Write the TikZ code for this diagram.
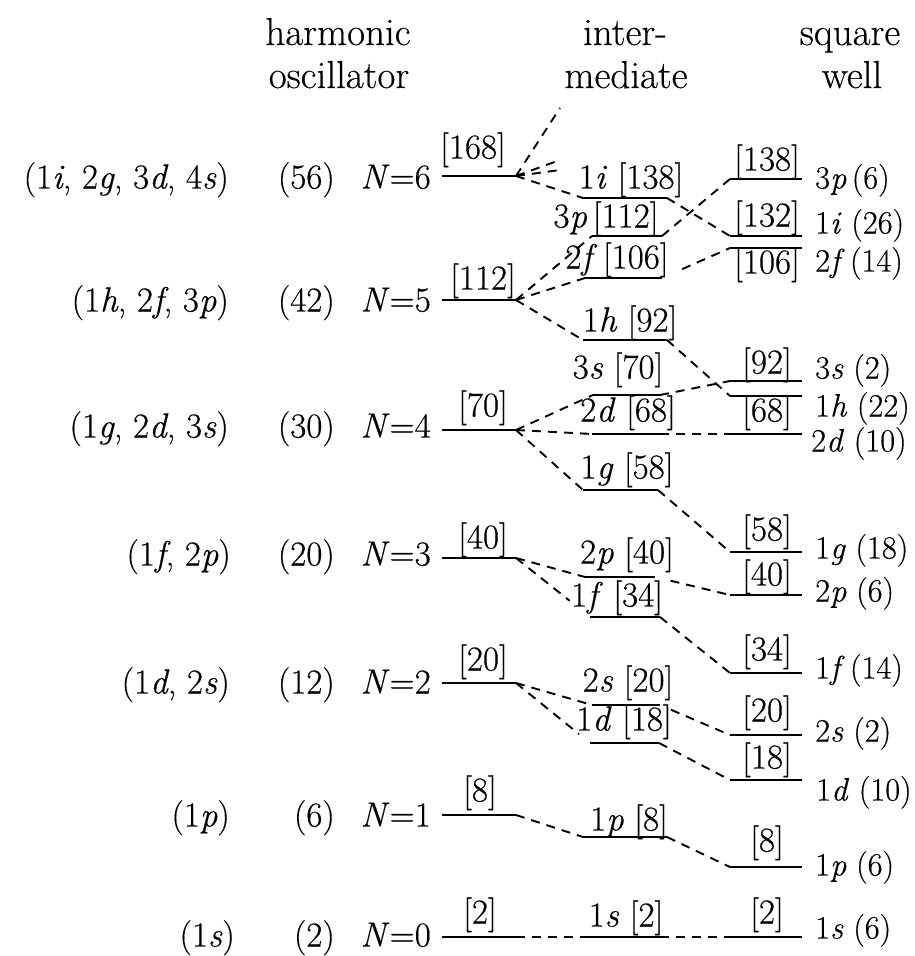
\documentclass[tikz,border=0pt]{standalone}
\usepackage{fontspec}
\setmainfont{Latin Modern Roman}[FakeBold=0.35]
\begin{document}
\begin{tikzpicture}[x=1pt,y=-1pt,
  level/.style={line width=2.4pt},
  link/.style={line width=1.9pt, dash pattern=on 9pt off 7pt},
  lab/.style={inner sep=0pt, text height=26pt, text depth=9pt,
              font=\fontsize{35}{42}\selectfont},
  rlab/.style={lab, anchor=west, font=\fontsize{32.5}{40}\selectfont},
  head/.style={inner sep=0pt, anchor=base, font=\fontsize{39}{46}\selectfont}]
\useasboundingbox (0,0) rectangle (915,956);

% column headings
\node[head] (hd1a) at (338,45) {harmonic};
\node[head] (hd1b) at (339,88) {oscillator};
\node[head] (hd2a) at (625,45) {inter-};
\node[head] (hd2b) at (626,88) {mediate};
\node[head] (hd3a) at (850,45) {square};
\node[head] (hd3b) at (852,88) {well};

% harmonic oscillator shells
\foreach \n/\y in {6/176,5/300,4/430,3/558,2/683,1/815,0/937}{
  \coordinate (hL\n) at (442,\y);
  \coordinate (hR\n) at (516,\y);
  \draw[level] (hL\n) -- (hR\n);
}

% intermediate levels
\foreach \s/\a/\b/\y in {1i/583/667/198, 3p/592/662/236, 2f/585/662/278,
    1h/583/667/340, 3s/593/660/395, 2d/592/660/434, 1g/583/658/490,
    2p/585/655/577, 1f/590/660/617, 2s/592/660/705, 1d/590/659/743,
    1p/583/667/837, 1s/583/660/937}{
  \coordinate (mL\s) at (\a,\y);
  \coordinate (mR\s) at (\b,\y);
  \draw[level] (mL\s) -- (mR\s);
}

% square well levels
\foreach \s/\y in {3p/179, 1i/236, 2f/248, 3s/381, 1h/396, 2d/434,
    1g/552, 2p/595, 1f/673, 2s/735, 1d/780, 1p/867, 1s/937}{
  \coordinate (sL\s) at (730,\y);
  \coordinate (sR\s) at (802,\y);
  \draw[level] (sL\s) -- (sR\s);
}

% shell contents, degeneracies and N
\node[lab,anchor=east] (c6) at (229,180) {(1\textit{i}, 2\textit{g}, 3\textit{d}, 4\textit{s})};
\node[lab,anchor=east] (c5) at (229,303) {(1\textit{h}, 2\textit{f}, 3\textit{p})};
\node[lab,anchor=east] (c4) at (229,429) {(1\textit{g}, 2\textit{d}, 3\textit{s})};
\node[lab,anchor=east] (c3) at (231,557) {(1\textit{f}, 2\textit{p})};
\node[lab,anchor=east] (c2) at (230,685) {(1\textit{d}, 2\textit{s})};
\node[lab,anchor=east] (c1) at (230,818) {(1\textit{p})};
\node[lab,anchor=east] (c0) at (235,938) {(1\textit{s})};

\foreach \n/\y/\g in {6/180/56, 5/303/42, 4/429/30, 3/557/20, 2/685/12, 1/818/6, 0/938/2}{
  \node[lab,anchor=east] (g\n) at (335,\y) {(\g)};
  \node[lab,anchor=east] (N\n) at (431,\y) {\textit{N}=\n};
}

% running totals over the oscillator shells
\node[lab] (t6) at (473,150) {[168]};
\node[lab] (t5) at (483,281) {[112]};
\node[lab] (t4) at (483,408) {[70]};
\node[lab] (t3) at (483,540) {[40]};
\node[lab] (t2) at (483,662) {[20]};
\node[lab] (t1) at (480,793) {[8]};
\node[lab] (t0) at (480,915) {[2]};

% intermediate labels
\node[lab] (m1i) at (631,180) {1\textit{i} [138]};
\node[lab] (m3p) at (606,219) {3\textit{p}\,[112]};
\node[lab] (m2f) at (617,260) {2\textit{f}\,[106]};
\node[lab] (m1h) at (630,323) {1\textit{h} [92]};
\node[lab] (m3s) at (618,370) {3\textit{s} [70]};
\node[lab] (m2d) at (628,413) {2\textit{d} [68]};
\node[lab] (m1g) at (627,470) {1\textit{g} [58]};
\node[lab] (m2p) at (627,555) {2\textit{p} [40]};
\node[lab] (m1f) at (617,598) {1\textit{f} [34]};
\node[lab] (m2s) at (628,683) {2\textit{s} [20]};
\node[lab] (m1d) at (624,722) {1\textit{d} [18]};
\node[lab] (m1p) at (629,822) {1\textit{p} [8]};
\node[lab] (m1s) at (626,918) {1\textit{s} [2]};

% square well totals
\foreach \s/\y/\t in {3p/162/138, 1i/218/132, 2f/265/106, 3s/365/92, 2d/413/68,
    1g/532/58, 2p/577/40, 1f/652/34, 2s/713/20, 1d/760/18, 1p/843/8, 1s/915/2}{
  \node[lab] (st\s) at (767,\y) {[\t]};
}

% square well level names
\node[rlab] (r3p) at (815,180) {3\textit{p}\,(6)};
\node[rlab] (r1i) at (815,225) {1\textit{i} (26)};
\node[rlab] (r2f) at (815,263) {2\textit{f}\,(14)};
\node[rlab] (r3s) at (815,370) {3\textit{s} (2)};
\node[rlab] (r1h) at (815,408) {1\textit{h} (22)};
\node[rlab] (r2d) at (811,443) {2\textit{d} (10)};
\node[rlab] (r1g) at (815,550) {1\textit{g} (18)};
\node[rlab] (r2p) at (815,593) {2\textit{p} (6)};
\node[rlab] (r1f) at (815,670) {1\textit{f}\,(14)};
\node[rlab] (r2s) at (815,733) {2\textit{s} (2)};
\node[rlab] (r1d) at (816,792) {1\textit{d} (10)};
\node[rlab] (r1p) at (815,867) {1\textit{p} (6)};
\node[rlab] (r1s) at (815,930) {1\textit{s} (6)};

% open ends of the N=6 splitting (levels above the frame)
\coordinate (up1) at (560,108);
\coordinate (up2) at (560,160);
\coordinate (up3) at (560,170);

% oscillator -> intermediate
\draw[link] (hR6) -- (up1);
\draw[link] (hR6) -- (up2);
\draw[link] (hR6) -- (up3);
\draw[link] (hR6) -- (mL1i);
\draw[link] (hR5) -- (mL3p);
\draw[link] (hR5) -- (mL2f);
\draw[link] (hR5) -- (mL1h);
\draw[link] (hR4) -- (mL3s);
\draw[link] (hR4) -- (mL2d);
\draw[link] (hR4) -- (mL1g);
\draw[link] (hR3) -- (mL2p);
\draw[link,shorten >=26pt] (hR3) -- (mL1f);
\draw[link] (hR2) -- (mL2s);
\draw[link,shorten >=14pt] (hR2) -- (mL1d);
\draw[link] (hR1) -- (mL1p);
\draw[link] (hR0) -- (mL1s);

% intermediate -> square well
\draw[link] (mR1i) -- (sL1i);
\draw[link] (mR3p) -- (sL3p);
\draw[link,shorten <=22pt] (mR2f) -- (sL2f);
\draw[link] (mR1h) -- (sL1h);
\draw[link] (mR3s) -- (sL3s);
\draw[link] (mR2d) -- (sL2d);
\draw[link] (mR1g) -- (sL1g);
\draw[link,shorten <=16pt] (mR2p) -- (sL2p);
\draw[link] (mR1f) -- (sL1f);
\draw[link,shorten <=12pt] (mR2s) -- (sL2s);
\draw[link] (mR1d) -- (sL1d);
\draw[link] (mR1p) -- (sL1p);
\draw[link] (mR1s) -- (sL1s);
\end{tikzpicture}
\end{document}
